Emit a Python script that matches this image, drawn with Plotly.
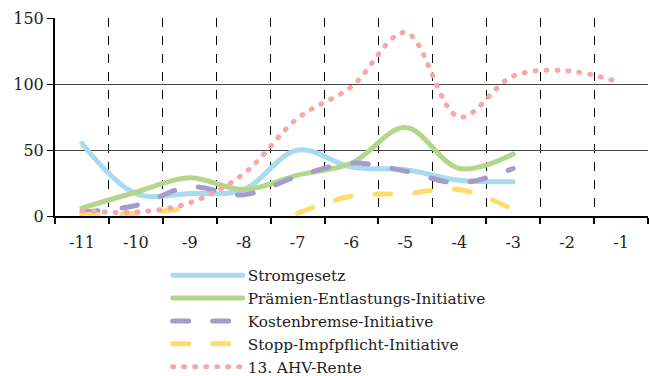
import plotly.graph_objects as go

categories = ["-11", "-10", "-9", "-8", "-7", "-6", "-5", "-4", "-3", "-2", "-1"]

stromgesetz = [55, 17, 17, 20, 50, 37, 35, 27, 26, None, None]
praemien = [6, 18, 29, 20, 31, 40, 67, 36, 47, None, None]
kostenbremse = [3, 8, 22, 16, 30, 40, 34, 25, 36, None, None]
impfpflicht = [1, 2, 6, None, 2, 15, 17, 20, 5, None, None]
ahv = [4, 3, 10, 32, 74, 98, 139, 75, 106, 110, 101]

series = [
    ("Stromgesetz", stromgesetz, "#a8dbee", "solid"),
    ("Prämien-Entlastungs-Initiative", praemien, "#b3d68a", "solid"),
    ("Kostenbremse-Initiative", kostenbremse, "#a49ccb", "16px,24px"),
    ("Stopp-Impfpflicht-Initiative", impfpflicht, "#ffdc6e", "16px,24px"),
    ("13. AHV-Rente", ahv, "#f7a8a4", "1px,10px"),
]

FONT = "DejaVu Serif"

fig = go.Figure()
for name, vals, color, dash in series:
    fig.add_trace(go.Scatter(
        x=categories, y=vals, name=name, mode="lines",
        line=dict(color=color, width=5, dash=dash, shape="spline", smoothing=1.0),
        connectgaps=False,
    ))

fig.update_layout(
    width=649, height=376,
    margin=dict(l=55, r=1, t=18, b=160),
    plot_bgcolor="white", paper_bgcolor="white",
    font=dict(family=FONT, size=16, color="#222"),
    showlegend=True,
    legend=dict(
        x=0.19, y=0.312, xanchor="left", yanchor="top",
        xref="paper", yref="container",
        orientation="v", itemwidth=70, tracegroupgap=0,
        font=dict(family=FONT, size=15.3, color="#222"),
        bgcolor="rgba(0,0,0,0)",
    ),
)
fig.update_xaxes(
    type="category", categoryorder="array", categoryarray=categories,
    range=[-0.5, 10.5], tickson="boundaries", automargin=False,
    showgrid=True, gridcolor="#000", gridwidth=1, griddash="dash",
    showline=True, linecolor="#000", linewidth=2,
    ticks="outside", ticklen=6, tickcolor="#000", tickwidth=2,
    ticklabelstandoff=11,
    tickfont=dict(family=FONT, size=16, color="#222"),
    zeroline=False, fixedrange=True,
)
fig.update_yaxes(
    range=[0, 150], tickvals=[0, 50, 100, 150], automargin=False,
    showgrid=True, gridcolor="#444", gridwidth=1,
    showline=True, linecolor="#000", linewidth=2,
    ticks="outside", ticklen=6, tickcolor="#000", tickwidth=1,
    tickfont=dict(family=FONT, size=16, color="#222"),
    zeroline=False, fixedrange=True,
)

post = """
document.body.style.margin = '0';
var gd = document.getElementById('{plot_id}');
function roundCaps() {
  gd.querySelectorAll('.scatterlayer path.js-line, .legend path.js-line').forEach(function(p) {
    p.style.strokeLinecap = 'round';
  });
}
roundCaps();
gd.on('plotly_afterplot', roundCaps);
"""

fig.write_html("out.html", post_script=post, config={"displayModeBar": False})
